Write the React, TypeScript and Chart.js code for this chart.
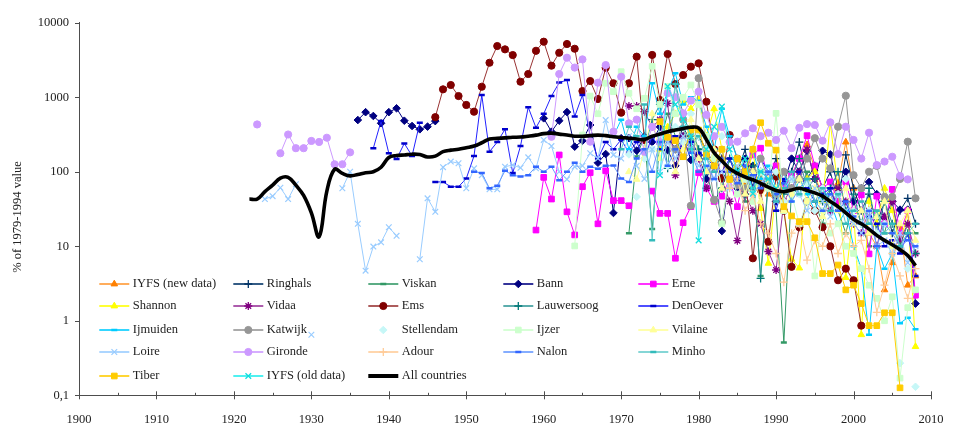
import React, { useEffect, useRef } from 'react';
import { Chart, registerables } from 'chart.js';
import { drawPoint } from 'chart.js/helpers';

Chart.register(...registerables);

// ---------- axes ----------
const X_MIN = 1900;
const X_MAX = 2010;
const X_MINOR_STEP = 5;
const Y_TICKS = [0.1, 1, 10, 100, 1000, 10000];
const Y_TITLE = '% of 1979-1994 value';

// ---------- series values (first year + yearly values, null = no data) ----------
const IYFS_NEW_FROM = 1980;
const IYFS_NEW = [300, 180, 120, 150, 90, 110, 70, 60, 80, 50, 40, 60, 90, 150, 230, 110, 60, 40, 70, 250, 60, 30, 15, 10, 2.6, 6, 18, 3, 4];

const RINGHALS_FROM = 1976;
const RINGHALS = [300, 200, 400, 250, 300, 200, 120, 150, 80, 100, 200, 60, 100, 80, 150, 60, 100, 250, 80, 120, 60, 100, 40, 168, 60, 30, 50, 20, 40, 15, 30, 44, 20];

const VISKAN_FROM = 1971;
const VISKAN = [15, 160, 300, 17, 250, 600, 300, 150, 400, 200, 100, 40, 60, 150, 80, 40, 100, 4, 80, 30, 0.51, 60, 50, 100, 40, 20, 60, 30, 15, 40, 20, 10, 30, 15, 40, 10, 20, 15];

const BANN_FROM = 1936;
const BANN = [494, 630, 560, 447, 630, 710, 484, 411, 371, 403, 478,
  null, null, null, null, null, null, null, null, null, null, null, null, null,
  521, 345, 484, 632, 217, 260, 424, 132, 173, 28, 282, 282, 192, 300, 250, 400, 195, 120, 300, 144, 168, 80, 150, 16, 100, 60, 150, 120, 60, 90, 40, 70, 150, 100, 190, 80, 191, 171, 60, 100, 40, 60, 73, 50, 24, 40, 31, 31, 1.7];

const ERNE_FROM = 1959;
const ERNE = [16.5, 84, 43, 168, 29, 14.2, 63, 97, 20, 103, 41, 41, 35, null, null, 55, 27.6, 27.6, 6.9, 20.7, 34, 97,
  60, 40, 47, 80, 34, 100, 168, 207, 80, 120, 60, 90, 150, 305, 120, 60, 73, 40, 73, 30, 49, 7.9, 47, 20, 58, 15, 30, 2.2];

const SHANNON_FROM = 1975;
const SHANNON = [200, 400, 600, 900, 700, 950, 300, 700, 200, 80, 100, 60, 200, 32, 5.9, 60, 30, 6.7, 5.1, 80, 100, 40, 450, 60, 3.8, 30, 0.65, 40, 20, 60, 30, 10, 30, 0.45];

const VIDAA_FROM = 1971;
const VIDAA = [762, 762, 640, 400, 500, 828, 90, 300, 200, 150, 60, 120, 80, 40, 11.9, 50, 30, 20, 8.5, 4.8, 40, 60, 100, 200, 80, 50, 30, 60, 40, 20, 15, 30, 10, 25, 40, 12, 20, 8];

const EMS_FROM = 1946;
const EMS = [540, 1276, 1458, 1037, 787, 640, 1383, 2900, 4860, 4390, 3680, 1614, 2050, 4200, 5560, 2650, 3950, 5180, 4470, 1210, 1650, 946, 2490, 1540, 620, 1540, 3500, 267, 3690, 918, 3800, 1500, 1986, 2570, 2850, 870, 200, 82, 311, 150, 100, 6.9, 57, 11.5, 86, 30, 5.3, 18, 40, 30, 18, 10, 3.5, 5, 3.5, 0.86];

const LAUWERSOOG_FROM = 1973;
const LAUWERSOOG = [200, 500, 800, 111, 1500, 600, 300, 200, 100, 200, 60, 150, 100, 50, 120, 3.7, 70, 100, 50, 80, 150, 60, 80, 40, 60, 100, 30, 50, 20, 60, 15, 40, 20, 10, 15, 8];

const DENOEVER_FROM = 1938;
const DENOEVER = [207, 478, 177, 148, 240, 163, 455, null, 73, 73, 63, 63, 81, 163, 1070, 186, 250, 371, 96, 221, 733, 390, 600, 1037, 1570, 1700, 550, 1070, 300, 150, 250, 200, 270, 180, 250, 150, 300, 200, 250, 300, 200, 250, 180, 150, 120, 100, 150, 80, 120, 60, 150, 100, 30, 80, 50, 100, 60, 40, 50, 60, 30, 40, 20, 15, 25, 20, 10, 12, 8, 15, 4];

const IJMUIDEN_FROM = 1969;
const IJMUIDEN = [300, 500, 200, 400, 300, 1540, 600, 1200, 2100, 800, 1000, 900, 400, 200, 700, 300, 150, 100, 200, 80, 120, 60, 100, 40, 80, 50, 30, 60, 40, 20, 30, 10, 5, 0.65, 10, 5, 8, 0.93, 1.1, 0.77];

const KATWIJK_FROM = 1977;
const KATWIJK = [200, 500, 35, 1800, 200, 42, 21, 80, 66, 60, 100, 150, 80, 50, 100, 60, 80, 150, 282, 150, 111, 402, 1047, 90, 60, 100, 120, 46, 46, 80, 253, 44];

const STELLENDAM_FROM = 1971;
const STELLENDAM = [171, 46, 150, 200, 300, 120, 400, 250, 600, 300, 200, 150, 300, 100, 150, 80, 200, 100, 60, 100, 40, 80, 50, 70, 30, 60, 40, 50, 80, 30, 20, 30, 15, 20, 10, 0.27, 5, 0.13];

const IJZER_FROM = 1964;
const IJZER = [10.1, 311, 1037, 600, 1540, 1186, 2200, 1130, 700, 967, 2600, 800, 1400, 600, 1000, 1460, 800, 300, 150, 20, 100, 50, 80, 40, 100, 60, 608, 30, 50, 20, 40, 4, 30, 15, 20, 10, 8, 5, 3, 2, 1.0, 2.1, 0.17, 1.5, 2.6];

const VILAINE_FROM = 1971;
const VILAINE = [100, 79, 200, 600, 150, 300, 100, 200, 500, 150, 100, 200, 60, 80, 150, 50, 100, 40, 80, 60, 30, 50, 80, 40, 60, 25, 40, 30, 60, 20, 30, 15, 25, 40, 10, 20, 30, 12];

const LOIRE_FROM = 1924;
const LOIRE = [43, 47, 61, 43, 68, null, 0.65, null, null, null, 60, 100, 20, 4.7, 9.9, 11.3, 18, 13.8, null, null, 6.7, 44, 29, 115, 137, 130, 60, 111, 90, 58, 58, 117, 123, 113, 156, 111, 267, 221, 100, 79, 117, 120, 177, 150, 494, 168, 150, 300, 120, 80, 200, 100, 250, 150, 300, 200, 120, 150, 80, 100, 60, 120, 90, 50, 70, 100, 40, 60, 80, 50, 30, 60, 40, 25, 50, 30, 20, 15, 25, 10, 12, 8, 15, 6, 10];

const GIRONDE_FROM = 1923;
const GIRONDE = [431, null, null, 177, 316, 207, 207, 259, 251, 286, 126, 126, 182,
  null, null, null, null, null, null, null, null, null, null, null, null, null, null, null, null, null, null, null, null, null, null, null, null, null,
  295, 2050, 3390, 2500, 3220, 253, 1566, 2700, 345, 1880, 447, 500, 186, 400, 250, 1130, 1000, 608, 900, 1186, 580, 300, 400, 250, 253, 328, 383, 300, 334, 267, 355, 207, 389, 436, 424, 261, 460, 173, 402, 267, 150, 334, 123, 137, 159, 88, 79];

const ADOUR_FROM = 1983;
const ADOUR = [200, 60, 80, 30, 50, 20, 15, 8, 3.3, 15, 20, 6.5, 12, 10, 20, 8, 15, 10, 12, 5, 1.3, 3, 8, 4, 2, 5];

const NALON_FROM = 1951;
const NALON = [100, 96, 60, 65, 103, 90, 86, 90, 117, 100, 117, 77, 100, 132, 100, 117, 110, 120, 121, 81, 73, 150, 200, 100, 250, 120, 200, 150, 180, 100, 120, 80, 150, 100, 70, 120, 90, 60, 100, 50, 70, 40, 60, 80, 40, 30, 50, 30, 40, 25, 20, 30, 10, 20, 15, 10, 12, 10];

const MINHO_FROM = 1970;
const MINHO = [200, 400, 300, 800, 12, 500, 300, 1500, 400, 200, 300, 150, 100, 200, 80, 150, 100, 60, 100, 80, 40, 60, 100, 50, 80, 40, 60, 30, 50, 20, 30, 40, 20, 30, 15, 20, 10, 15, 20];

const TIBER_FROM = 1975;
const TIBER = [470, 290, 261, 159, 363, 363, 173, 120, 200, 79, 150, 100, 200, 455, 241, 195, 34, 25.5, 21.4, 21.4, 13, 4.3, 4.3, 5.6, 2.6, 3.0, 1.7, 0.86, 0.86, 1.28, 1.28, 0.126];

const IYFS_OLD_FROM = 1975;
const IYFS_OLD = [90, 1400, 800, 500, 300, 12, 200, 400, 750, 200, 100, 150, 51, 100, 80, 60];

const ALL_FROM = 1922;
const ALL_COUNTRIES = [43, 43, 54, 66, 82, 84, 66, 48, 28, 13.4, 55, 108, 95, 88, 92, 97, 100, 115, 155, 165, 168, 172, 170, 158, 162, 186, 195, 200, 210, 221, 245, 275, 280, 285, 290, 292, 300, 310, 325, 330, 320, 312, 300, 300, 305, 310, 305, 295, 288, 282, 275, 270, 300, 320, 345, 362, 380, 395, 385, 270, 180, 140, 110, 95, 85, 78, 70, 62, 56, 54, 57, 60, 56, 52, 47, 40, 34, 28, 23, 20, 17, 14, 12, 10.5, 9, 7.5, 5.5];

// ---------- series table (legend order, row by row) ----------
type Spec = {
  label: string; from: number; values: (number | null)[];
  line: string; marker: string; style: any; r: number; pw: number;
  showLine?: boolean; width?: number; smooth?: boolean;
};

const SERIES: Spec[] = [
  { label: 'IYFS (new data)', from: IYFS_NEW_FROM, values: IYFS_NEW, line: '#FF9933', marker: '#FF8000', style: 'triangle', r: 3.8, pw: 1 },
  { label: 'Ringhals', from: RINGHALS_FROM, values: RINGHALS, line: '#003366', marker: '#003366', style: 'cross', r: 4, pw: 1.3 },
  { label: 'Viskan', from: VISKAN_FROM, values: VISKAN, line: '#339966', marker: '#339966', style: 'line', r: 3, pw: 2.5 },
  { label: 'Bann', from: BANN_FROM, values: BANN, line: '#000080', marker: '#000080', style: 'rectRot', r: 3.8, pw: 1 },
  { label: 'Erne', from: ERNE_FROM, values: ERNE, line: '#FF00FF', marker: '#FF00FF', style: 'rect', r: 4, pw: 1 },
  { label: 'Shannon', from: SHANNON_FROM, values: SHANNON, line: '#FFFF00', marker: '#FFFF00', style: 'triangle', r: 3.8, pw: 1 },
  { label: 'Vidaa', from: VIDAA_FROM, values: VIDAA, line: '#993399', marker: '#800080', style: 'star', r: 4, pw: 1.3 },
  { label: 'Ems', from: EMS_FROM, values: EMS, line: '#993333', marker: '#800000', style: 'circle', r: 3.6, pw: 1 },
  { label: 'Lauwersoog', from: LAUWERSOOG_FROM, values: LAUWERSOOG, line: '#339999', marker: '#007777', style: 'cross', r: 4, pw: 1.3 },
  { label: 'DenOever', from: DENOEVER_FROM, values: DENOEVER, line: '#2222FF', marker: '#0000CC', style: 'line', r: 3, pw: 2.5 },
  { label: 'Ijmuiden', from: IJMUIDEN_FROM, values: IJMUIDEN, line: '#00CCFF', marker: '#00CCFF', style: 'line', r: 3, pw: 2.5 },
  { label: 'Katwijk', from: KATWIJK_FROM, values: KATWIJK, line: '#969696', marker: '#969696', style: 'circle', r: 3.6, pw: 1 },
  { label: 'Stellendam', from: STELLENDAM_FROM, values: STELLENDAM, line: '#CCFFFF', marker: '#C6F7F7', style: 'rectRot', r: 3.8, pw: 1, showLine: false },
  { label: 'Ijzer', from: IJZER_FROM, values: IJZER, line: '#CCFFCC', marker: '#CCFFCC', style: 'rect', r: 4, pw: 1 },
  { label: 'Vilaine', from: VILAINE_FROM, values: VILAINE, line: '#FFFF99', marker: '#FFFF99', style: 'triangle', r: 3.8, pw: 1 },
  { label: 'Loire', from: LOIRE_FROM, values: LOIRE, line: '#99CCFF', marker: '#99CCFF', style: 'crossRot', r: 4, pw: 1.2 },
  { label: 'Gironde', from: GIRONDE_FROM, values: GIRONDE, line: '#CC99FF', marker: '#CC99FF', style: 'circle', r: 3.6, pw: 1 },
  { label: 'Adour', from: ADOUR_FROM, values: ADOUR, line: '#FFCC99', marker: '#FFCC99', style: 'cross', r: 4, pw: 1.3 },
  { label: 'Nalon', from: NALON_FROM, values: NALON, line: '#6699FF', marker: '#3366FF', style: 'line', r: 3, pw: 2.5 },
  { label: 'Minho', from: MINHO_FROM, values: MINHO, line: '#66CCCC', marker: '#33BBBB', style: 'line', r: 3, pw: 2.5 },
  { label: 'Tiber', from: TIBER_FROM, values: TIBER, line: '#FFCC00', marker: '#FFCC00', style: 'rect', r: 4, pw: 1 },
  { label: 'IYFS (old data)', from: IYFS_OLD_FROM, values: IYFS_OLD, line: '#22EEEE', marker: '#11DDDD', style: 'crossRot', r: 4, pw: 1.3 },
  { label: 'All countries', from: ALL_FROM, values: ALL_COUNTRIES, line: '#000000', marker: '#000000', style: false, r: 0, pw: 0, width: 3.6, smooth: true },
];

const FONT_FAMILY = '"Liberation Serif", "DejaVu Serif", serif';
const FONT_SIZE = 12.5;
const TEXT_COLOR = '#222';
const AXIS_COLOR = '#4d4d4d';

// legend grid (inside the plot area)
const LEGEND_COL_X = [99.3, 233.3, 368.3, 503.3, 638.3];
const LEGEND_ROW_Y = [284, 306, 330, 352, 376];

const toPoints = (from: number, values: (number | null)[]) =>
  values.map((v, i) => ({ x: from + i, y: v }));

const axisPlugin = {
  id: 'axisDecor',
  afterDraw(chart: any) {
    const { ctx, chartArea, scales } = chart;
    const xs = scales.x;
    const ys = scales.y;
    ctx.save();
    ctx.strokeStyle = AXIS_COLOR;
    ctx.lineWidth = 1;
    ctx.beginPath();
    for (let yr = X_MIN; yr <= X_MAX; yr += X_MINOR_STEP) {
      const px = Math.round(xs.getPixelForValue(yr)) + 0.5;
      const major = yr % 10 === 0;
      ctx.moveTo(px, chartArea.bottom - (major ? 4 : 2.5));
      ctx.lineTo(px, chartArea.bottom + (major ? 4 : 0.5));
    }
    for (const v of Y_TICKS) {
      const py = Math.round(ys.getPixelForValue(v)) + 0.5;
      ctx.moveTo(chartArea.left - 4, py);
      ctx.lineTo(chartArea.left, py);
    }
    ctx.stroke();
    // y axis title
    ctx.fillStyle = TEXT_COLOR;
    ctx.font = `${FONT_SIZE}px ${FONT_FAMILY}`;
    ctx.textAlign = 'center';
    ctx.textBaseline = 'middle';
    ctx.translate(18, 217);
    ctx.rotate(-Math.PI / 2);
    ctx.fillText(Y_TITLE, 0, 0);
    ctx.restore();
  },
};

const legendPlugin = {
  id: 'insideLegend',
  afterDatasetsDraw(chart: any) {
    const { ctx } = chart;
    ctx.save();
    SERIES.forEach((s, i) => {
      const x0 = LEGEND_COL_X[i % 5];
      const y = LEGEND_ROW_Y[Math.floor(i / 5)];
      if (s.showLine !== false) {
        ctx.strokeStyle = s.line;
        ctx.lineWidth = s.width ? 4 : 1.6;
        ctx.beginPath();
        ctx.moveTo(x0, y);
        ctx.lineTo(x0 + 30, y);
        ctx.stroke();
      }
      if (s.style) {
        ctx.fillStyle = s.marker;
        ctx.strokeStyle = s.marker;
        ctx.lineWidth = s.pw;
        const cx = s.style === 'line' ? x0 + 15 : x0 + 15;
        drawPoint(ctx, { pointStyle: s.style, rotation: 0, radius: s.r, borderWidth: s.pw } as any, cx, y);
      }
      ctx.fillStyle = TEXT_COLOR;
      ctx.font = `${FONT_SIZE}px ${FONT_FAMILY}`;
      ctx.textAlign = 'left';
      ctx.textBaseline = 'middle';
      ctx.fillText(s.label, x0 + 33.5, y);
    });
    ctx.restore();
  },
};

export default function App() {
  const canvasRef = useRef<HTMLCanvasElement | null>(null);

  useEffect(() => {
    if (!canvasRef.current) return;
    const n = SERIES.length;
    const datasets = SERIES.map((s, i) => ({
      label: s.label,
      data: toPoints(s.from, s.values),
      borderColor: s.line,
      backgroundColor: s.marker,
      borderWidth: s.width ?? 1,
      showLine: s.showLine !== false,
      spanGaps: false,
      tension: s.smooth ? 0.4 : 0,
      pointStyle: s.style,
      pointRadius: s.r,
      pointHoverRadius: s.r,
      pointBackgroundColor: s.marker,
      pointBorderColor: s.marker,
      pointBorderWidth: s.pw,
      order: n - i,
    }));

    const chart = new Chart(canvasRef.current, {
      type: 'line',
      data: { datasets },
      options: {
        animation: false,
        responsive: false,
        maintainAspectRatio: false,
        events: [],
        layout: { padding: { top: 22.7, right: 13, bottom: 0, left: 0 } },
        plugins: { legend: { display: false }, tooltip: { enabled: false }, title: { display: false } },
        scales: {
          x: {
            type: 'linear',
            min: X_MIN,
            max: X_MAX,
            grid: { display: false, drawTicks: false },
            border: { display: true, color: AXIS_COLOR, width: 1 },
            ticks: {
              stepSize: 10,
              autoSkip: false,
              maxRotation: 0,
              padding: 16.5,
              color: TEXT_COLOR,
              font: { family: FONT_FAMILY, size: FONT_SIZE },
              callback: (v: any) => String(v),
            },
            afterFit: (s: any) => { s.height = 28.7; },
          },
          y: {
            type: 'logarithmic',
            min: 0.1,
            max: 10000,
            grid: { display: false, drawTicks: false },
            border: { display: true, color: AXIS_COLOR, width: 1 },
            ticks: {
              padding: 10,
              color: TEXT_COLOR,
              font: { family: FONT_FAMILY, size: FONT_SIZE },
              callback: (v: any) => (Number(v) < 1 ? String(v).replace('.', ',') : String(v)),
            },
            afterBuildTicks: (s: any) => { s.ticks = Y_TICKS.map((v) => ({ value: v })); },
            afterFit: (s: any) => { s.width = 79; },
          },
        },
      } as any,
      plugins: [legendPlugin, axisPlugin],
    });
    return () => chart.destroy();
  }, []);

  return (
    <div style={{ position: 'fixed', left: 0, top: 0, width: 960, height: 424, background: '#fff' }}>
      <canvas ref={canvasRef} width={960} height={424} />
    </div>
  );
}
